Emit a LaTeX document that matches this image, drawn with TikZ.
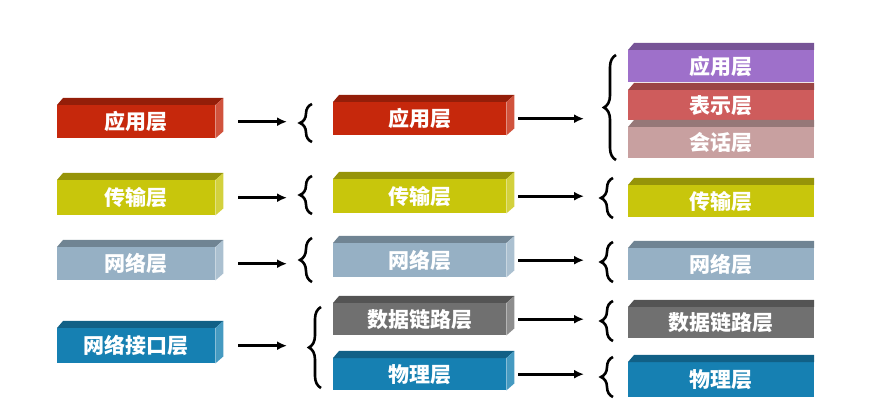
\documentclass[tikz,border=0pt]{standalone}
\usepackage{fontspec}
\newfontfamily\cjk{Noto Sans CJK SC}
\usetikzlibrary{decorations.pathreplacing, arrows.meta}

\definecolor{appred}{RGB}{198,40,12}
\definecolor{transy}{RGB}{200,198,12}
\definecolor{netgb}{RGB}{150,176,196}
\definecolor{ifblue}{RGB}{22,128,178}
\definecolor{dlgray}{RGB}{112,112,112}
\definecolor{apppurple}{RGB}{158,112,202}
\definecolor{presred}{RGB}{206,92,92}
\definecolor{sesspink}{RGB}{200,160,160}

\tikzset{
    layer/.style={inner sep=0pt, text=white, font=\cjk\bfseries\fontsize{21}{23}\selectfont},
    arr/.style={->, line width=3.2pt},
    brc/.style={decorate, decoration={brace, amplitude=12pt}, line width=2.6pt},
}

% thanh 3D: tên, x, y, rộng, cao, màu, chữ
\newcommand{\layerbar}[7]{%
    \node[layer, fill=#6, minimum width=#4pt, minimum height=#5pt, anchor=north west] (#1) at (#2,#3) {#7};
    \fill[#6!75!black] (#1.north west) -- ++(6,-7) -- ([shift={(8,-7)}]#1.north east) -- (#1.north east) -- cycle;
    \fill[#6!80!white] (#1.north east) -- ++(8,-7) -- ([shift={(8,-7)}]#1.south east) -- (#1.south east) -- cycle;
}

\begin{document}
\begin{tikzpicture}[>={Latex[length=10pt, width=9pt]}, x=1pt, y=-1pt]
    \useasboundingbox (0,0) rectangle (875,419);

    % 1. Cột trái
    \layerbar{L1}{57}{105}{158}{33}{appred}{应用层}
    \layerbar{L2}{57}{180}{158}{35}{transy}{传输层}
    \layerbar{L3}{57}{247}{158}{33}{netgb}{网络层}
    \layerbar{L4}{57}{328}{158}{35}{ifblue}{网络接口层}

    % 2. Cột giữa
    \layerbar{M1}{333}{102}{173}{33}{appred}{应用层}
    \layerbar{M2}{333}{179}{173}{34}{transy}{传输层}
    \layerbar{M3}{333}{243}{173}{34}{netgb}{网络层}
    \layerbar{M4}{333}{303}{173}{32}{dlgray}{数据链路层}
    \layerbar{M5}{333}{358}{173}{32}{ifblue}{物理层}

    % 3. Cột phải (bị cắt ở mép)
    \begin{scope}
        \clip (0,0) rectangle (814,419);
        \layerbar{R1}{628}{50}{186}{32}{apppurple}{应用层}
        \layerbar{R2}{628}{90}{186}{30}{presred}{表示层}
        \layerbar{R3}{628}{127}{186}{31}{sesspink}{会话层}
        \layerbar{R4}{628}{185}{186}{32}{transy}{传输层}
        \layerbar{R5}{628}{248}{186}{32}{netgb}{网络层}
        \layerbar{R6}{628}{307}{186}{31}{dlgray}{数据链路层}
        \layerbar{R7}{628}{362}{186}{35}{ifblue}{物理层}
    \end{scope}

    % 4. Mũi tên
    \coordinate (a) at (287,0);
    \coordinate (b) at (584,0);
    \draw[arr] ([xshift=23pt]L1.east) -- (L1.east -| a);
    \draw[arr] ([xshift=23pt]L2.east) -- (L2.east -| a);
    \draw[arr] ([xshift=23pt]L3.east) -- (L3.east -| a);
    \draw[arr] ([xshift=23pt]L4.east) -- (L4.east -| a);
    \draw[arr] ([xshift=12pt]M1.east) -- (M1.east -| b);
    \draw[arr] ([xshift=12pt]M2.east) -- (M2.east -| b);
    \draw[arr] ([xshift=12pt]M3.east) -- (M3.east -| b);
    \draw[arr] ([xshift=12pt]M4.east) -- (M4.east -| b);
    \draw[arr] ([xshift=12pt]M5.east) -- (M5.east -| b);

    % 5. Dấu ngoặc
    \draw[brc] (312,142) -- (312,104);
    \draw[brc] (312,214) -- (312,176);
    \draw[brc] (312,282) -- (312,238);
    \draw[brc] (321,388) -- (321,307);
    \draw[brc] (616,160) -- (616,55);
    \draw[brc] (613,218) -- (613,178);
    \draw[brc] (613,282) -- (613,242);
    \draw[brc] (613,341) -- (613,301);
    \draw[brc] (613,397) -- (613,357);
\end{tikzpicture}
\end{document}
